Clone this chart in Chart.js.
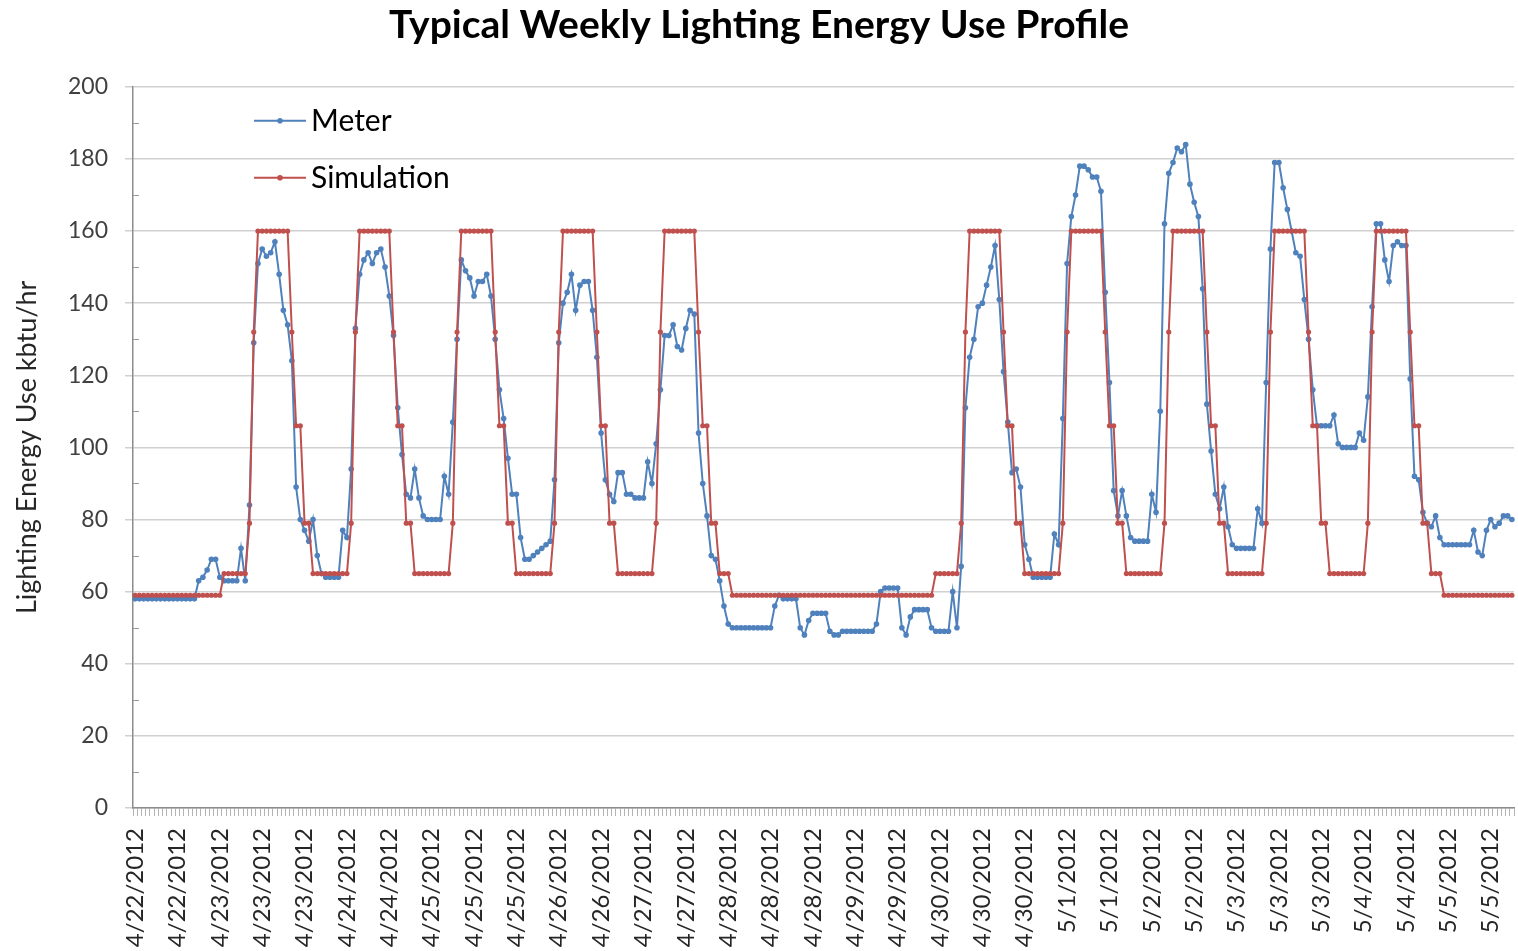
<!DOCTYPE html>
<html>
<head>
<meta charset="utf-8">
<title>Typical Weekly Lighting Energy Use Profile</title>
<script src="https://cdn.jsdelivr.net/npm/chart.js@4.4.1/dist/chart.umd.min.js"></script>
<style>
  html, body { margin: 0; padding: 0; background: #fff; overflow: hidden; }
  #wrap { position: relative; width: 1518px; height: 951px; }
</style>
</head>
<body>
<div id="wrap"><canvas id="lightingChart"></canvas></div>
<script>
// Hourly values (hour-ending), first reading 4/22/2012 04:00
const firstHour = Date.UTC(2012, 3, 22, 4);
const labelEvery = 10;
const yMax = 200;
const yStep = 20;

const meterKbtu = [
  58, 58, 58, 58, 58, 58, 58, 58, 58, 58, 58, 58, 58, 58, 58, 63, 64, 66, 69, 69, 64, 63, 63, 63, 63, 72, 63,
  84, 129, 151, 155, 153, 154, 157, 148, 138, 134, 124, 89, 80, 77, 74, 80, 70, 65, 64, 64, 64, 64, 77, 75,
  94, 133, 148, 152, 154, 151, 154, 155, 150, 142, 131, 111, 98, 87, 86, 94, 86, 81, 80, 80, 80, 80, 92, 87,
  107, 130, 152, 149, 147, 142, 146, 146, 148, 142, 130, 116, 108, 97, 87, 87, 75, 69, 69, 70, 71, 72, 73, 74,
  91, 129, 140, 143, 148, 138, 145, 146, 146, 138, 125, 104, 91, 87, 85, 93, 93, 87, 87, 86, 86, 86, 96, 90,
  101, 116, 131, 131, 134, 128, 127, 133, 138, 137, 104, 90, 81, 70, 69, 63, 56, 51, 50, 50, 50, 50, 50, 50,
  50, 50, 50, 50, 56, 59, 58, 58, 58, 58, 50, 48, 52, 54, 54, 54, 54, 49, 48, 48, 49, 49, 49, 49,
  49, 49, 49, 49, 51, 60, 61, 61, 61, 61, 50, 48, 53, 55, 55, 55, 55, 50, 49, 49, 49, 49, 60, 50,
  67, 111, 125, 130, 139, 140, 145, 150, 156, 141, 121, 107, 93, 94, 89, 73, 69, 64, 64, 64, 64, 64, 76, 73,
  108, 151, 164, 170, 178, 178, 177, 175, 175, 171, 143, 118, 88, 81, 88, 81, 75, 74, 74, 74, 74, 87, 82, 110,
  162, 176, 179, 183, 182, 184, 173, 168, 164, 144, 112, 99, 87, 83, 89, 78, 73, 72, 72, 72, 72, 72, 83, 79,
  118, 155, 179, 179, 172, 166, 160, 154, 153, 141, 130, 116, 106, 106, 106, 106, 109, 101, 100, 100, 100, 100, 104, 102,
  114, 139, 162, 162, 152, 146, 156, 157, 156, 156, 119, 92, 91, 82, 79, 78, 81, 75, 73, 73, 73, 73, 73, 73,
  73, 77, 71, 70, 77, 80, 78, 79, 81, 81, 80
];

const simulationKbtu = [
  59, 59, 59, 59, 59, 59, 59, 59, 59, 59, 59, 59, 59, 59, 59, 59, 59, 59, 59, 59, 59, 65, 65, 65, 65, 65, 65,
  79, 132, 160, 160, 160, 160, 160, 160, 160, 160, 132, 106, 106, 79, 79, 65, 65, 65, 65, 65, 65, 65, 65, 65,
  79, 132, 160, 160, 160, 160, 160, 160, 160, 160, 132, 106, 106, 79, 79, 65, 65, 65, 65, 65, 65, 65, 65, 65,
  79, 132, 160, 160, 160, 160, 160, 160, 160, 160, 132, 106, 106, 79, 79, 65, 65, 65, 65, 65, 65, 65, 65, 65,
  79, 132, 160, 160, 160, 160, 160, 160, 160, 160, 132, 106, 106, 79, 79, 65, 65, 65, 65, 65, 65, 65, 65, 65,
  79, 132, 160, 160, 160, 160, 160, 160, 160, 160, 132, 106, 106, 79, 79, 65, 65, 65, 59, 59, 59, 59, 59, 59,
  59, 59, 59, 59, 59, 59, 59, 59, 59, 59, 59, 59, 59, 59, 59, 59, 59, 59, 59, 59, 59, 59, 59, 59,
  59, 59, 59, 59, 59, 59, 59, 59, 59, 59, 59, 59, 59, 59, 59, 59, 59, 59, 65, 65, 65, 65, 65, 65,
  79, 132, 160, 160, 160, 160, 160, 160, 160, 160, 132, 106, 106, 79, 79, 65, 65, 65, 65, 65, 65, 65, 65, 65,
  79, 132, 160, 160, 160, 160, 160, 160, 160, 160, 132, 106, 106, 79, 79, 65, 65, 65, 65, 65, 65, 65, 65, 65,
  79, 132, 160, 160, 160, 160, 160, 160, 160, 160, 132, 106, 106, 79, 79, 65, 65, 65, 65, 65, 65, 65, 65, 65,
  79, 132, 160, 160, 160, 160, 160, 160, 160, 160, 132, 106, 106, 79, 79, 65, 65, 65, 65, 65, 65, 65, 65, 65,
  79, 132, 160, 160, 160, 160, 160, 160, 160, 160, 132, 106, 106, 79, 79, 65, 65, 65, 59, 59, 59, 59, 59, 59,
  59, 59, 59, 59, 59, 59, 59, 59, 59, 59, 59
];

// one category per hour, e.g. "4/22/2012 4:00"
const hourLabels = [];
for (let h = 0; h < meterKbtu.length; h++) {
  const t = new Date(firstHour + h * 3600 * 1000);
  hourLabels.push((t.getUTCMonth() + 1) + '/' + t.getUTCDate() + '/' + t.getUTCFullYear() + ' ' + t.getUTCHours() + ':00');
}

Chart.defaults.font.family = 'Lato, "DejaVu Sans", sans-serif';

// Legend sits inside the plot, plus the small minor marks on the value axis
const insideLegend = {
  id: 'insideLegend',
  afterDatasetsDraw(chart) {
    const { ctx, chartArea, data } = chart;
    ctx.save();
    data.datasets.forEach((ds, k) => {
      const y = chartArea.top + 34 + k * 57;
      const x0 = chartArea.left + 121;
      ctx.strokeStyle = ds.borderColor;
      ctx.lineWidth = 2;
      ctx.beginPath();
      ctx.moveTo(x0, y);
      ctx.lineTo(x0 + 52, y);
      ctx.stroke();
      ctx.fillStyle = ds.borderColor;
      ctx.beginPath();
      ctx.arc(x0 + 26, y, 2.8, 0, Math.PI * 2);
      ctx.fill();
      ctx.fillStyle = '#000';
      ctx.font = '30px Lato';
      ctx.textBaseline = 'middle';
      ctx.fillText(ds.label, x0 + 57, y + 1);
    });

    const yScale = chart.scales.y;
    ctx.strokeStyle = '#9a9a9a';
    ctx.lineWidth = 1;
    ctx.beginPath();
    for (let v = yStep / 2; v < yMax; v += yStep) {
      const py = Math.round(yScale.getPixelForValue(v)) + 0.5;
      ctx.moveTo(chartArea.left, py);
      ctx.lineTo(chartArea.left + 6, py);
    }
    ctx.stroke();
    ctx.restore();
  }
};

const ctx = document.getElementById('lightingChart').getContext('2d');
const lightingChart = new Chart(ctx, {
  type: 'line',
  data: {
    labels: hourLabels,
    datasets: [{
      label: 'Meter',
      data: meterKbtu,
      borderColor: '#4F81BD',
      backgroundColor: '#4F81BD',
      borderWidth: 2,
      pointRadius: 2.8,
      pointBorderWidth: 0,
      tension: 0,
      order: 1
    }, {
      label: 'Simulation',
      data: simulationKbtu,
      borderColor: '#C0504D',
      backgroundColor: '#C0504D',
      borderWidth: 2,
      pointRadius: 2.6,
      pointBorderWidth: 0,
      tension: 0,
      order: 0
    }]
  },
  options: {
    responsive: true,
    maintainAspectRatio: false,
    animation: false,
    layout: { padding: 0 },
    plugins: {
      legend: { display: false },
      tooltip: { enabled: false },
      title: {
        display: true,
        text: 'Typical Weekly Lighting Energy Use Profile',
        color: '#000',
        font: { size: 39, weight: 'bold' },
        padding: { top: 2, bottom: 38 }
      }
    },
    scales: {
      x: {
        type: 'category',
        offset: true,
        grid: {
          offset: true,
          drawOnChartArea: false,
          drawTicks: true,
          tickLength: 8,
          color: '#b4b4b4'
        },
        border: { color: '#8c8c8c', width: 1.5 },
        ticks: {
          autoSkip: false,
          maxRotation: 90,
          minRotation: 90,
          padding: 12,
          color: '#262626',
          font: { size: 24 },
          callback: function (value, index) {
            return index % labelEvery === 0 ? this.getLabelForValue(value).split(' ')[0] : '';
          }
        },
        afterFit: (scale) => {
          scale.height = 143;
          scale.paddingLeft = 0;
          scale.paddingRight = 0;
        }
      },
      y: {
        min: 0,
        max: yMax,
        ticks: {
          stepSize: yStep,
          padding: 17,
          color: '#404040',
          font: { size: 23 }
        },
        grid: {
          color: '#d0d0d0',
          lineWidth: 1.5,
          tickLength: 8
        },
        border: { color: '#8c8c8c', width: 1.5 },
        title: {
          display: true,
          text: 'Lighting Energy Use kbtu/hr',
          color: '#262626',
          font: { size: 27 },
          padding: { top: 11, bottom: 0 }
        },
        afterFit: (scale) => {
          scale.width = 133;
        }
      }
    }
  },
  plugins: [insideLegend]
});
</script>
</body>
</html>
